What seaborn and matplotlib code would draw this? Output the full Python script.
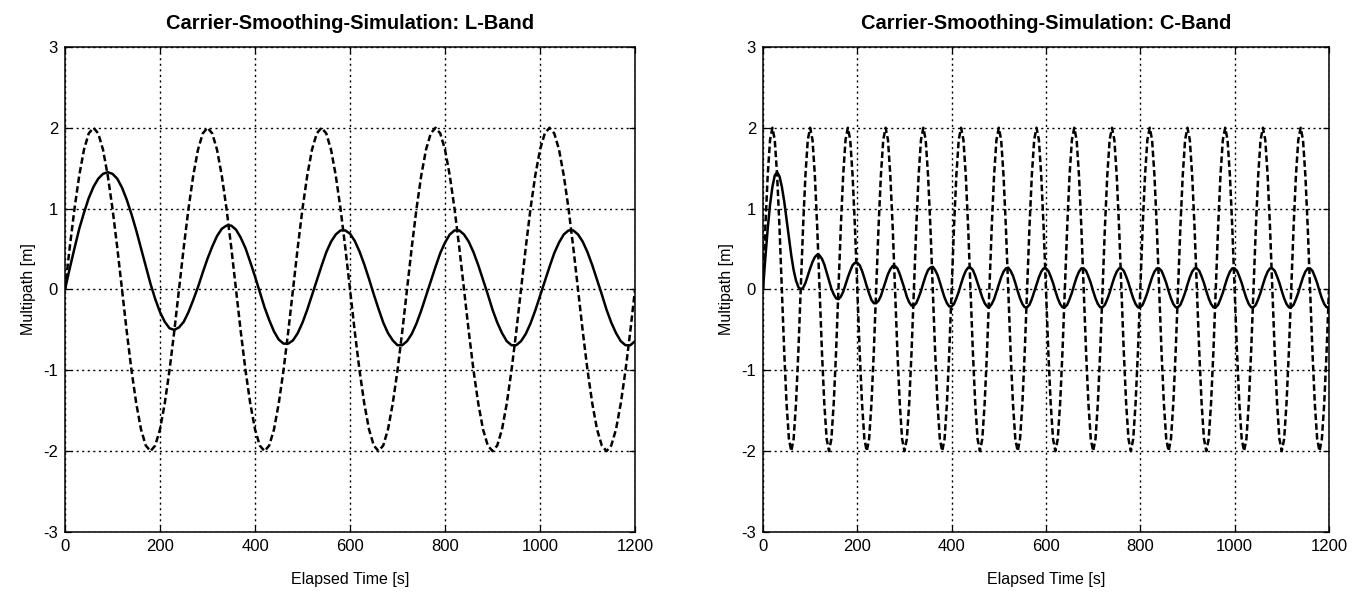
import numpy as np
import pandas as pd
import matplotlib
matplotlib.use("Agg")
import matplotlib.pyplot as plt
import seaborn as sns

# L-Band: Zeit in 10-s-Schritten
time_l = list(range(0, 1201, 10))
raw_l = [
    0.00, 0.52, 1.00, 1.41, 1.73, 1.93, 2.00, 1.93, 1.73, 1.41, 1.00, 0.52,
    0.00, -0.52, -1.00, -1.41, -1.73, -1.93, -2.00, -1.93, -1.73, -1.41, -1.00, -0.52,
    0.00, 0.52, 1.00, 1.41, 1.73, 1.93, 2.00, 1.93, 1.73, 1.41, 1.00, 0.52,
    0.00, -0.52, -1.00, -1.41, -1.73, -1.93, -2.00, -1.93, -1.73, -1.41, -1.00, -0.52,
    0.00, 0.52, 1.00, 1.41, 1.73, 1.93, 2.00, 1.93, 1.73, 1.41, 1.00, 0.52,
    0.00, -0.52, -1.00, -1.41, -1.73, -1.93, -2.00, -1.93, -1.73, -1.41, -1.00, -0.52,
    0.00, 0.52, 1.00, 1.41, 1.73, 1.93, 2.00, 1.93, 1.73, 1.41, 1.00, 0.52,
    0.00, -0.52, -1.00, -1.41, -1.73, -1.93, -2.00, -1.93, -1.73, -1.41, -1.00, -0.52,
    0.00, 0.52, 1.00, 1.41, 1.73, 1.93, 2.00, 1.93, 1.73, 1.41, 1.00, 0.52,
    0.00, -0.52, -1.00, -1.41, -1.73, -1.93, -2.00, -1.93, -1.73, -1.41, -1.00, -0.52,
    0.00,
]
smooth_l = [
    0.00, 0.26, 0.51, 0.75, 0.95, 1.13, 1.27, 1.37, 1.43, 1.45, 1.43, 1.37,
    1.26, 1.11, 0.93, 0.73, 0.51, 0.29, 0.07, -0.12, -0.28, -0.40, -0.48, -0.50,
    -0.47, -0.40, -0.28, -0.13, 0.03, 0.21, 0.38, 0.53, 0.66, 0.75, 0.79, 0.79,
    0.74, 0.64, 0.51, 0.34, 0.16, -0.03, -0.22, -0.38, -0.52, -0.62, -0.67, -0.67,
    -0.63, -0.54, -0.41, -0.25, -0.07, 0.11, 0.29, 0.46, 0.59, 0.68, 0.73, 0.73,
    0.69, 0.60, 0.47, 0.31, 0.13, -0.06, -0.24, -0.41, -0.54, -0.63, -0.69, -0.69,
    -0.64, -0.55, -0.42, -0.26, -0.08, 0.10, 0.28, 0.45, 0.58, 0.68, 0.73, 0.73,
    0.68, 0.59, 0.46, 0.30, 0.12, -0.06, -0.25, -0.41, -0.54, -0.64, -0.69, -0.69,
    -0.64, -0.55, -0.42, -0.26, -0.08, 0.10, 0.28, 0.45, 0.58, 0.68, 0.73, 0.73,
    0.68, 0.59, 0.46, 0.30, 0.12, -0.06, -0.25, -0.41, -0.54, -0.64, -0.69, -0.69,
    -0.64,
]

# C-Band: Zeit in 5-s-Schritten
time_c = list(range(0, 1201, 5))
raw_c = [
    0.00, 0.77, 1.41, 1.85, 2.00, 1.85, 1.41, 0.77, 0.00, -0.77, -1.41, -1.85, -2.00, -1.85, -1.41, -0.77, 0.00, 0.77, 1.41, 1.85,
    2.00, 1.85, 1.41, 0.77, 0.00, -0.77, -1.41, -1.85, -2.00, -1.85, -1.41, -0.77, 0.00, 0.77, 1.41, 1.85, 2.00, 1.85, 1.41, 0.77,
    0.00, -0.77, -1.41, -1.85, -2.00, -1.85, -1.41, -0.77, 0.00, 0.77, 1.41, 1.85, 2.00, 1.85, 1.41, 0.77, 0.00, -0.77, -1.41, -1.85,
    -2.00, -1.85, -1.41, -0.77, 0.00, 0.77, 1.41, 1.85, 2.00, 1.85, 1.41, 0.77, 0.00, -0.77, -1.41, -1.85, -2.00, -1.85, -1.41, -0.77,
    0.00, 0.77, 1.41, 1.85, 2.00, 1.85, 1.41, 0.77, 0.00, -0.77, -1.41, -1.85, -2.00, -1.85, -1.41, -0.77, 0.00, 0.77, 1.41, 1.85,
    2.00, 1.85, 1.41, 0.77, 0.00, -0.77, -1.41, -1.85, -2.00, -1.85, -1.41, -0.77, 0.00, 0.77, 1.41, 1.85, 2.00, 1.85, 1.41, 0.77,
    0.00, -0.77, -1.41, -1.85, -2.00, -1.85, -1.41, -0.77, 0.00, 0.77, 1.41, 1.85, 2.00, 1.85, 1.41, 0.77, 0.00, -0.77, -1.41, -1.85,
    -2.00, -1.85, -1.41, -0.77, 0.00, 0.77, 1.41, 1.85, 2.00, 1.85, 1.41, 0.77, 0.00, -0.77, -1.41, -1.85, -2.00, -1.85, -1.41, -0.77,
    0.00, 0.77, 1.41, 1.85, 2.00, 1.85, 1.41, 0.77, 0.00, -0.77, -1.41, -1.85, -2.00, -1.85, -1.41, -0.77, 0.00, 0.77, 1.41, 1.85,
    2.00, 1.85, 1.41, 0.77, 0.00, -0.77, -1.41, -1.85, -2.00, -1.85, -1.41, -0.77, 0.00, 0.77, 1.41, 1.85, 2.00, 1.85, 1.41, 0.77,
    0.00, -0.77, -1.41, -1.85, -2.00, -1.85, -1.41, -0.77, 0.00, 0.77, 1.41, 1.85, 2.00, 1.85, 1.41, 0.77, 0.00, -0.77, -1.41, -1.85,
    -2.00, -1.85, -1.41, -0.77, 0.00, 0.77, 1.41, 1.85, 2.00, 1.85, 1.41, 0.77, 0.00, -0.77, -1.41, -1.85, -2.00, -1.85, -1.41, -0.77,
    0.00,
]
smooth_c = [
    0.00, 0.39, 0.75, 1.05, 1.27, 1.41, 1.45, 1.40, 1.27, 1.09, 0.87, 0.64, 0.42, 0.24, 0.11, 0.03, 0.00, 0.02, 0.08, 0.17,
    0.26, 0.34, 0.40, 0.43, 0.42, 0.38, 0.31, 0.21, 0.11, 0.01, -0.06, -0.11, -0.12, -0.09, -0.03, 0.06, 0.15, 0.23, 0.30, 0.33,
    0.33, 0.30, 0.23, 0.14, 0.04, -0.05, -0.13, -0.17, -0.17, -0.14, -0.08, 0.01, 0.10, 0.19, 0.25, 0.29, 0.29, 0.26, 0.19, 0.10,
    0.01, -0.09, -0.16, -0.20, -0.20, -0.17, -0.10, -0.02, 0.08, 0.17, 0.24, 0.27, 0.28, 0.24, 0.18, 0.09, -0.01, -0.10, -0.17, -0.21,
    -0.21, -0.18, -0.11, -0.03, 0.07, 0.16, 0.23, 0.27, 0.27, 0.24, 0.17, 0.08, -0.01, -0.10, -0.17, -0.21, -0.22, -0.18, -0.12, -0.03,
    0.06, 0.15, 0.22, 0.26, 0.27, 0.23, 0.17, 0.08, -0.02, -0.11, -0.18, -0.22, -0.22, -0.19, -0.12, -0.03, 0.06, 0.15, 0.22, 0.26,
    0.26, 0.23, 0.16, 0.08, -0.02, -0.11, -0.18, -0.22, -0.22, -0.19, -0.12, -0.04, 0.06, 0.15, 0.22, 0.26, 0.26, 0.23, 0.16, 0.08,
    -0.02, -0.11, -0.18, -0.22, -0.22, -0.19, -0.12, -0.04, 0.06, 0.15, 0.22, 0.26, 0.26, 0.23, 0.16, 0.08, -0.02, -0.11, -0.18, -0.22,
    -0.22, -0.19, -0.12, -0.04, 0.06, 0.15, 0.22, 0.26, 0.26, 0.23, 0.16, 0.08, -0.02, -0.11, -0.18, -0.22, -0.22, -0.19, -0.12, -0.04,
    0.06, 0.15, 0.22, 0.26, 0.26, 0.23, 0.16, 0.08, -0.02, -0.11, -0.18, -0.22, -0.22, -0.19, -0.12, -0.04, 0.06, 0.15, 0.22, 0.26,
    0.26, 0.23, 0.16, 0.08, -0.02, -0.11, -0.18, -0.22, -0.22, -0.19, -0.12, -0.04, 0.06, 0.15, 0.22, 0.26, 0.26, 0.23, 0.16, 0.08,
    -0.02, -0.11, -0.18, -0.22, -0.22, -0.19, -0.12, -0.04, 0.06, 0.15, 0.22, 0.26, 0.26, 0.23, 0.16, 0.08, -0.02, -0.11, -0.18, -0.22,
    -0.22,
]

titles = ["Carrier-Smoothing-Simulation: L-Band", "Carrier-Smoothing-Simulation: C-Band"]
x_ticks = [0, 200, 400, 600, 800, 1000, 1200]
y_ticks = [-3, -2, -1, 0, 1, 2, 3]

sns.set_theme(style="white")
plt.rcParams['font.family'] = ['Liberation Sans', 'DejaVu Sans']
plt.rcParams['axes.unicode_minus'] = False
plt.rcParams['text.color'] = 'black'
plt.rcParams['axes.labelcolor'] = 'black'


def draw_panel(ax, t, raw, smooth, title):
    df = pd.DataFrame({"t": t, "raw": raw, "smooth": smooth})
    # Rohes Mehrwegesignal gestrichelt, geglättetes durchgezogen
    sns.lineplot(data=df, x="t", y="raw", ax=ax, color="black", linewidth=1.8,
                 linestyle=(0, (2.6, 1.3)), estimator=None, sort=False)
    sns.lineplot(data=df, x="t", y="smooth", ax=ax, color="black", linewidth=1.8,
                 estimator=None, sort=False)

    ax.set_xlim(0, 1200)
    ax.set_ylim(-3, 3)
    ax.set_xticks(x_ticks)
    ax.set_yticks(y_ticks)
    ax.grid(True, color="black", linestyle=(0, (1.5, 2.5)), linewidth=1.0)
    ax.set_axisbelow(True)
    for s in ax.spines.values():
        s.set_color("black")
        s.set_linewidth(1.1)
        s.set_visible(True)
    ax.tick_params(direction="in", length=4, width=0.9, colors="black",
                   labelsize=12, top=True, right=True, bottom=True, left=True, pad=5)
    ax.set_title(title, fontsize=14.5, fontweight="bold", pad=13, color="black")
    ax.set_xlabel("Elapsed Time [s]", fontsize=11.5, labelpad=13)
    ax.set_ylabel("Multipath [m]", fontsize=11.5, labelpad=5)


fig = plt.figure(figsize=(13.54, 5.93), dpi=100)
ax1 = fig.add_axes([0.048, 0.1029, 0.421, 0.818])
ax2 = fig.add_axes([0.5635, 0.1029, 0.418, 0.818])

draw_panel(ax1, time_l, raw_l, smooth_l, titles[0])
draw_panel(ax2, time_c, raw_c, smooth_c, titles[1])

fig.savefig("out.png", dpi=100, facecolor="white")
